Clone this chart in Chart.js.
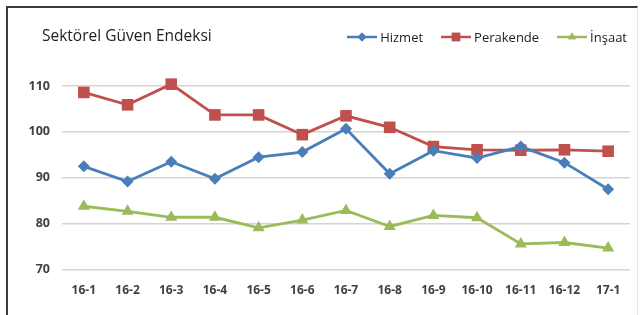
<!DOCTYPE html>
<html>
<head>
<meta charset="utf-8">
<script src="https://cdn.jsdelivr.net/npm/chart.js@4/dist/chart.umd.min.js"></script>
<style>
  html, body { margin: 0; padding: 0; background: #fff; }
  #frame {
    position: absolute; left: 6px; top: 6px; width: 632px; height: 320px;
    border-left: 2px solid #3a3a3a; border-top: 2px solid #3a3a3a; border-right: 1px solid #e4e4e4;
    box-sizing: border-box;
  }
  #wrap { position: absolute; left: 0; top: 0; width: 642px; height: 315px; }
  #title {
    position: absolute; left: 42px; top: 24px;
    font-family: "Open Sans", "Liberation Sans", sans-serif; font-size: 15.5px; color: #222;
  }
  #legend {
    position: absolute; right: 15px; top: 28px; display: flex; align-items: center;
    font-family: "Open Sans", "Liberation Sans", sans-serif; font-size: 13px; color: #222;
  }
  #legend .item { display: flex; align-items: center; margin-left: 18px; }
  #legend canvas { margin-right: 3px; }
</style>
</head>
<body>
<div id="frame"></div>
<div id="wrap"><canvas id="lineChart" width="642" height="315"></canvas></div>
<div id="title">Sektörel Güven Endeksi</div>
<div id="legend"></div>
<script>
// =====================================================
// DATA
// =====================================================
const months = ['16-1','16-2','16-3','16-4','16-5','16-6','16-7','16-8','16-9','16-10','16-11','16-12','17-1'];
const hizmet = [92.5, 89.2, 93.5, 89.8, 94.5, 95.6, 100.7, 90.9, 95.9, 94.3, 96.8, 93.3, 87.5];
const perakende = [108.6, 105.9, 110.4, 103.7, 103.7, 99.4, 103.5, 101.0, 96.8, 96.1, 96.0, 96.1, 95.8];
const insaat = [83.8, 82.7, 81.4, 81.4, 79.1, 80.8, 82.9, 79.4, 81.8, 81.3, 75.6, 75.9, 74.7];
const yTicks = [70, 80, 90, 100, 110];

const BLUE = '#4a7ebb', RED = '#c0504d', GREEN = '#9bbb59';
const FONT = '"Open Sans", "Liberation Sans", sans-serif';

const datasets = [
    { label: 'Hizmet', data: hizmet, borderColor: BLUE, backgroundColor: BLUE, pointStyle: 'rectRot', pointRadius: 6 },
    { label: 'Perakende', data: perakende, borderColor: RED, backgroundColor: RED, pointStyle: 'rect', pointRadius: 8.2 },
    { label: 'İnşaat', data: insaat, borderColor: GREEN, backgroundColor: GREEN, pointStyle: 'triangle', pointRadius: 7 }
].map(d => ({ ...d, borderWidth: 2.8, pointBorderWidth: 0, tension: 0, clip: false }));

// =====================================================
// LEGEND (line sample with marker, like Excel)
// =====================================================
function legendIcon(color, style) {
    const c = document.createElement('canvas');
    c.width = 30; c.height = 12;
    const ctx = c.getContext('2d');
    ctx.strokeStyle = color; ctx.lineWidth = 2.5;
    ctx.beginPath(); ctx.moveTo(0, 6); ctx.lineTo(30, 6); ctx.stroke();
    ctx.fillStyle = color;
    Chart.helpers.drawPoint(ctx, { pointStyle: style, radius: style === 'rect' ? 6 : 4.5, borderWidth: 0 }, 15, 6);
    ctx.fill();
    return c;
}
const legendEl = document.getElementById('legend');
datasets.forEach(ds => {
    const item = document.createElement('div');
    item.className = 'item';
    item.appendChild(legendIcon(ds.borderColor, ds.pointStyle));
    const span = document.createElement('span');
    span.textContent = ds.label;
    item.appendChild(span);
    legendEl.appendChild(item);
});

// =====================================================
// CHART
// =====================================================
new Chart(document.getElementById('lineChart'), {
    type: 'line',
    data: { labels: months, datasets: datasets },
    options: {
        responsive: false,
        animation: false,
        layout: { padding: { left: 0, right: 12, top: 86, bottom: 3 } },
        plugins: {
            legend: { display: false },
            tooltip: { enabled: false }
        },
        scales: {
            x: {
                offset: true,
                grid: { display: false, drawTicks: false },
                border: { display: false },
                ticks: { color: '#404040', font: { family: FONT, size: 12, weight: 'bold' }, padding: 14, maxRotation: 0 }
            },
            y: {
                min: 70, max: 110,
                afterBuildTicks: axis => { axis.ticks = yTicks.map(v => ({ value: v })); },
                afterFit: axis => { axis.width = 62; },
                grid: { color: '#d4d4d4', lineWidth: 1.5, drawTicks: false },
                border: { display: false },
                ticks: { color: '#404040', font: { family: FONT, size: 12.5, weight: 'bold' }, padding: 12 }
            }
        }
    }
});
</script>
</body>
</html>
